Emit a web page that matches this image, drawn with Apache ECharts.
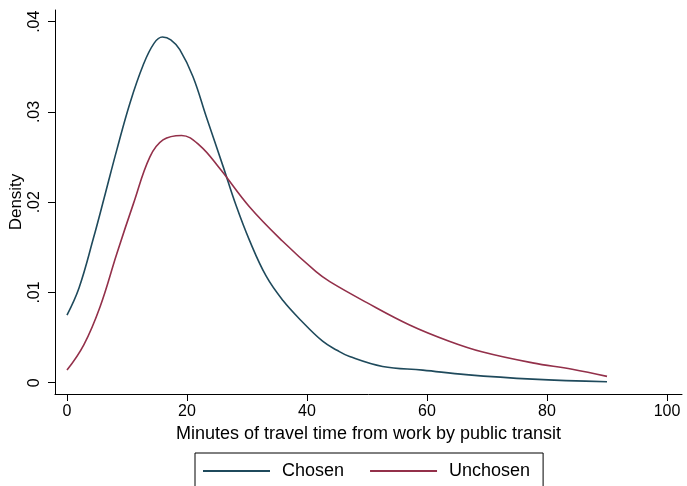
<!DOCTYPE html>
<html>
<head>
<meta charset="utf-8">
<script src="https://cdn.jsdelivr.net/npm/echarts@6/dist/echarts.min.js"></script>
<style>html,body{margin:0;padding:0;background:#fff}#c{width:687px;height:486px}</style>
</head>
<body>
<div id="c"></div>
<script>
// Data
const xTicks = [0, 20, 40, 60, 80, 100];
const yTicks = [0, 0.01, 0.02, 0.03, 0.04];
const yTickLabels = ['0', '.01', '.02', '.03', '.04'];
const seriesNames = ['Chosen', 'Unchosen'];
const chosen = [
  [0, 0.0075], [2, 0.0105], [4.4, 0.0160], [6.4, 0.0210], [8.3, 0.0258],
  [10.5, 0.0310], [12.7, 0.0352], [14.5, 0.0376], [15.9, 0.0383], [17.3, 0.0380],
  [18.8, 0.0369], [21, 0.0339], [23.2, 0.0295], [26, 0.0240], [28.2, 0.0196],
  [30.4, 0.0158], [33.2, 0.0118], [36, 0.0091], [39, 0.0069], [42.6, 0.0046],
  [45, 0.0036], [47.1, 0.0029], [52.6, 0.0018], [59.3, 0.0014], [66.5, 0.0009],
  [77.6, 0.0004], [90, 0.0001]
];
const unchosen = [
  [0, 0.0014], [2.8, 0.0042], [5.5, 0.0084], [8.3, 0.0143], [11.1, 0.0199],
  [13.8, 0.0250], [16, 0.0269], [19.1, 0.0274], [22.1, 0.0263], [25.5, 0.0237],
  [30.4, 0.0195], [35.9, 0.0157], [41.5, 0.0123], [43.8, 0.0112], [49.9, 0.0089],
  [57.1, 0.0064], [63.7, 0.0046], [69.3, 0.0034], [77.6, 0.0022], [84.2, 0.0015],
  [90, 0.0007]
];

const FONT = '"Liberation Sans", Arial, Helvetica, sans-serif';
const chart = echarts.init(document.getElementById('c'), null, {renderer: 'canvas'});
chart.setOption({
  backgroundColor: '#ffffff',
  animation: false,
  textStyle: {fontFamily: FONT, color: '#000'},
  grid: {left: 55, right: 5, top: 10, bottom: 92, containLabel: false, outerBoundsMode: 'none'},
  xAxis: {
    type: 'value', min: -2, max: 102.5,
    name: 'Minutes of travel time from work by public transit',
    nameLocation: 'middle', nameGap: 31, nameMoveOverlap: false,
    nameTextStyle: {fontSize: 18, color: '#000', fontFamily: FONT},
    axisLine: {show: true, onZero: false, lineStyle: {color: '#000', width: 1}},
    axisTick: {show: true, length: 7, lineStyle: {color: '#000'}, customValues: xTicks},
    axisLabel: {show: true, fontSize: 16, color: '#000', margin: 10, customValues: xTicks, fontFamily: FONT},
    splitLine: {show: false}
  },
  yAxis: {
    type: 'value', min: -0.00125, max: 0.0413,
    name: 'Density', nameLocation: 'middle', nameGap: 30, nameMoveOverlap: false,
    nameTextStyle: {fontSize: 17, color: '#000', fontFamily: FONT},
    axisLine: {show: true, onZero: false, lineStyle: {color: '#000', width: 1}},
    axisTick: {show: true, length: 7, lineStyle: {color: '#000'}, customValues: yTicks},
    axisLabel: {
      show: true, fontSize: 16, color: '#000', margin: 12, rotate: 90, fontFamily: FONT,
      customValues: yTicks,
      formatter: function (v) {
        const i = yTicks.findIndex(t => Math.abs(t - v) < 1e-9);
        return i >= 0 ? yTickLabels[i] : '';
      }
    },
    splitLine: {show: false}
  },
  legend: {
    left: 195, top: 453,
    data: seriesNames,
    icon: 'rect',
    itemWidth: 67, itemHeight: 2, itemGap: 26,
    padding: [9, 13, 9, 8],
    borderColor: '#000', borderWidth: 1,
    textStyle: {fontSize: 18, color: '#000', fontFamily: FONT, padding: [0, 0, 0, 7]}
  },
  series: [
    {
      name: seriesNames[0], type: 'line', data: chosen, smooth: 0.4,
      symbol: 'none', lineStyle: {color: '#1f4a5c', width: 1.6}, itemStyle: {color: '#1f4a5c'}
    },
    {
      name: seriesNames[1], type: 'line', data: unchosen, smooth: 0.4,
      symbol: 'none', lineStyle: {color: '#93304a', width: 1.6}, itemStyle: {color: '#93304a'}
    }
  ]
});
</script>
</body>
</html>
